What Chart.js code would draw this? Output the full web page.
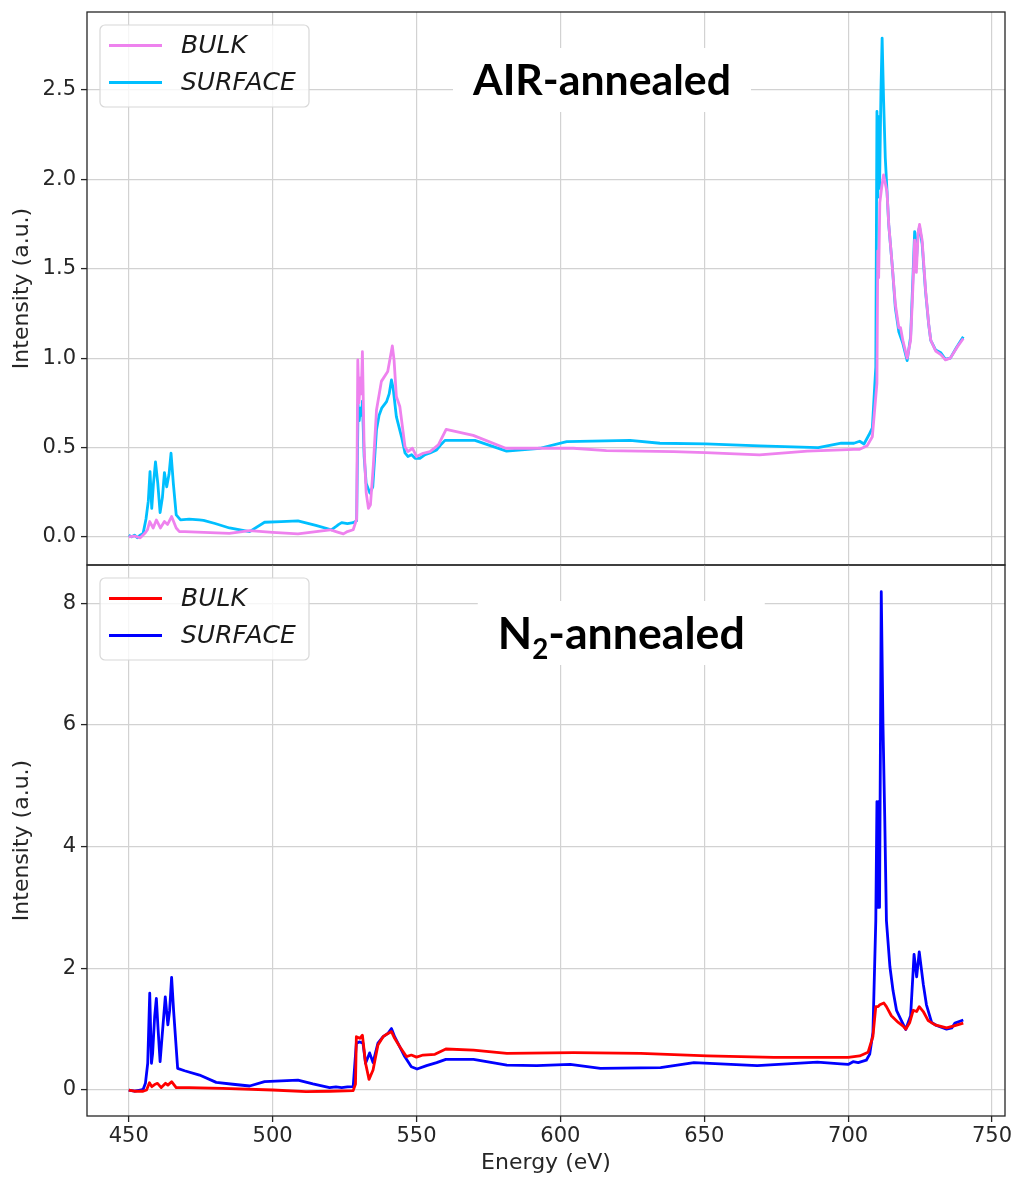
<!DOCTYPE html>
<html>
<head>
<meta charset="utf-8">
<title>XAS spectra</title>
<script src="https://cdn.jsdelivr.net/npm/chart.js@4.4.1/dist/chart.umd.min.js"></script>
<style>
  html, body { margin: 0; padding: 0; background: #fff; }
  #wrap { position: relative; width: 1020px; height: 1177px; }
  #air { position: absolute; left: 0; top: 0; }
  #n2 { position: absolute; left: 0; top: 555px; }
</style>
</head>
<body>
<div id="wrap">
  <canvas id="air" width="1020" height="567"></canvas>
  <canvas id="n2" width="1020" height="622"></canvas>
</div>
<script>
// AIR-annealed, bulk
const airBulkE = [450, 452, 454, 455.6, 456.5, 457.3, 458.5, 459.6, 461, 462.4, 463.5, 464.9, 466.5, 467.6, 469.4, 485, 492, 500, 508.8, 520, 522, 524.6, 526, 528, 529.2, 529.6, 530, 530.5, 530.8, 531.2, 531.8, 532.5, 533.3, 534, 535, 536.1, 537.8, 540, 541.6, 542.2, 543, 544.2, 546, 547, 548.6, 550, 552.3, 554.7, 557.6, 560.3, 569.7, 581, 593, 604.5, 616, 639.3, 650.4, 669.2, 685.8, 697.6, 702, 704, 706.6, 708.4, 710, 710.3, 710.6, 711, 711.6, 712.3, 713.5, 714.1, 715.3, 716.4, 717.6, 718.2, 719, 720.5, 721.7, 722.5, 723.1, 723.7, 724.3, 724.8, 725.7, 726.9, 728, 728.7, 730.4, 732.2, 733.8, 735.5, 737.8, 740];
const airBulkI = [0.0, 0.005, -0.005, 0.02, 0.04, 0.086, 0.05, 0.095, 0.05, 0.086, 0.07, 0.114, 0.05, 0.03, 0.03, 0.02, 0.035, 0.025, 0.017, 0.04, 0.03, 0.017, 0.03, 0.04, 0.1, 0.99, 0.75, 0.89, 0.8, 1.036, 0.5, 0.25, 0.16, 0.18, 0.4, 0.71, 0.87, 0.925, 1.068, 0.99, 0.785, 0.73, 0.505, 0.477, 0.496, 0.45, 0.468, 0.477, 0.515, 0.602, 0.568, 0.496, 0.496, 0.496, 0.483, 0.477, 0.472, 0.459, 0.48, 0.487, 0.49, 0.49, 0.51, 0.56, 0.86, 1.6, 1.45, 1.87, 1.95, 2.025, 1.93, 1.75, 1.52, 1.3, 1.17, 1.17, 1.1, 1.0, 1.1, 1.4, 1.66, 1.48, 1.7, 1.748, 1.66, 1.38, 1.19, 1.10, 1.04, 1.02, 0.99, 1.0, 1.06, 1.11];

// AIR-annealed, surface
const airSurfE = [450, 451, 452, 453, 454, 455, 456, 456.8, 457.4, 458, 458.6, 459.3, 460.1, 460.9, 461.7, 462.4, 463.2, 464, 464.7, 465.5, 466.5, 468, 471, 474.5, 476, 480, 485, 492, 497.2, 503, 508.8, 515, 520.4, 522.2, 523, 524, 526, 528, 529.2, 529.7, 530.1, 530.5, 530.9, 531.2, 531.8, 532.5, 533.8, 534.8, 535.5, 536.1, 537, 537.9, 539.6, 540.5, 541.3, 541.9, 543, 544.8, 546, 547, 548.3, 549.5, 551.2, 553, 554.7, 557, 558.7, 559.9, 570.3, 581.3, 592.9, 602.2, 624.2, 634.6, 650.4, 669.2, 689.6, 697.6, 702, 704, 705.5, 707.2, 708.4, 709.6, 710, 710.3, 710.6, 710.9, 711.4, 711.8, 712.3, 712.9, 714.1, 715.3, 716.4, 717.6, 719, 720.5, 721.7, 722.5, 723.1, 723.7, 724.3, 724.8, 725.7, 726.9, 728, 728.7, 730.4, 732.2, 733.8, 735.5, 737.8, 740];
const airSurfI = [0.01, 0.0, 0.01, -0.005, 0.01, 0.02, 0.1, 0.2, 0.365, 0.16, 0.3, 0.42, 0.3, 0.136, 0.22, 0.36, 0.28, 0.35, 0.468, 0.3, 0.123, 0.095, 0.1, 0.095, 0.093, 0.075, 0.05, 0.03, 0.082, 0.086, 0.09, 0.065, 0.04, 0.06, 0.07, 0.08, 0.075, 0.08, 0.09, 0.74, 0.65, 0.72, 0.68, 0.76, 0.45, 0.3, 0.245, 0.28, 0.45, 0.6, 0.68, 0.72, 0.757, 0.8, 0.878, 0.83, 0.673, 0.56, 0.47, 0.45, 0.46, 0.44, 0.44, 0.46, 0.47, 0.487, 0.52, 0.54, 0.54, 0.48, 0.496, 0.533, 0.54, 0.524, 0.52, 0.509, 0.5, 0.524, 0.524, 0.535, 0.52, 0.57, 0.61, 0.95, 2.38, 1.9, 2.35, 1.95, 2.5, 2.79, 2.45, 2.12, 1.745, 1.52, 1.28, 1.148, 1.083, 0.986, 1.12, 1.45, 1.708, 1.54, 1.7, 1.735, 1.64, 1.37, 1.186, 1.10, 1.045, 1.03, 0.994, 1.0, 1.064, 1.12];

// N2-annealed, bulk
const n2BulkE = [450, 452, 455, 456.2, 457.2, 458, 459, 460, 461.3, 462.8, 463.6, 464.9, 466.5, 471, 482.6, 500, 511.6, 520, 528, 528.8, 529.1, 530.3, 531.2, 532.3, 533.5, 534.9, 536.6, 538.4, 540.1, 541.3, 542.4, 544.2, 546.5, 548.2, 550, 552.3, 556.4, 560.2, 569.8, 581.4, 604.6, 627.9, 651, 674.2, 697.4, 700, 704, 706.9, 708.6, 709.6, 710.4, 711, 712.4, 713.3, 715, 717.4, 719.1, 720, 721.4, 722.6, 723.8, 724.7, 726.1, 727.8, 730.2, 734.2, 736.5, 740];
const n2BulkI = [0.0, -0.02, -0.02, 0.0, 0.12, 0.055, 0.09, 0.11, 0.04, 0.11, 0.08, 0.137, 0.04, 0.04, 0.027, 0.0, -0.027, -0.02, -0.01, 0.1, 0.876, 0.85, 0.9, 0.44, 0.175, 0.33, 0.74, 0.876, 0.93, 0.96, 0.85, 0.71, 0.55, 0.575, 0.54, 0.575, 0.586, 0.674, 0.657, 0.602, 0.613, 0.602, 0.56, 0.536, 0.536, 0.535, 0.56, 0.62, 0.88, 1.37, 1.37, 1.40, 1.43, 1.37, 1.22, 1.11, 1.05, 1.0, 1.11, 1.31, 1.29, 1.37, 1.29, 1.14, 1.07, 1.02, 1.05, 1.1];

// N2-annealed, surface
const n2SurfE = [450, 452, 454, 455, 455.8, 456.6, 457.3, 457.9, 458.3, 459, 459.6, 460.2, 460.9, 461.8, 462.7, 463.6, 464.2, 464.9, 465.6, 467, 469.4, 474.6, 480.4, 486.2, 492, 497.2, 503, 508.8, 514, 519.8, 522, 524, 526, 528, 529.1, 530.3, 531.4, 532.3, 533.7, 534.9, 536.6, 538.4, 540.1, 541.3, 542.4, 544.2, 545.9, 548.2, 550.2, 553.5, 557, 560.2, 569.8, 581.4, 591.8, 603.4, 613.9, 634.8, 646.4, 668.4, 689.3, 697.4, 700, 701.7, 703.5, 706.3, 707.5, 708.6, 709.6, 710, 710.3, 710.6, 710.9, 711.5, 712.1, 712.7, 713.3, 714.5, 715.6, 716.8, 718.5, 720, 721.7, 722.9, 723.8, 724.7, 726.1, 727.2, 729, 730.7, 734.2, 736, 737.1, 740];
const n2SurfI = [0.0, -0.02, 0.0, 0.01, 0.11, 0.44, 1.59, 0.44, 0.6, 1.2, 1.507, 1.0, 0.466, 1.0, 1.53, 1.07, 1.3, 1.85, 1.3, 0.356, 0.317, 0.246, 0.126, 0.095, 0.066, 0.137, 0.15, 0.164, 0.1, 0.04, 0.05, 0.04, 0.05, 0.055, 0.77, 0.79, 0.77, 0.44, 0.61, 0.45, 0.77, 0.876, 0.93, 1.01, 0.876, 0.71, 0.55, 0.383, 0.345, 0.4, 0.45, 0.504, 0.504, 0.41, 0.4, 0.42, 0.356, 0.367, 0.45, 0.4, 0.46, 0.43, 0.42, 0.466, 0.45, 0.49, 0.59, 0.94, 2.78, 4.74, 3.0, 4.74, 3.0, 8.19, 6.0, 4.5, 2.78, 2.03, 1.63, 1.31, 1.14, 0.995, 1.22, 2.23, 1.86, 2.27, 1.74, 1.4, 1.11, 1.06, 1.0, 1.02, 1.1, 1.15];

const energyTicks = [450, 500, 550, 600, 650, 700, 750];
const airTicks = [0, 0.5, 1, 1.5, 2, 2.5];
const n2Ticks = [0, 2, 4, 6, 8];
const seriesNames = ['BULK', 'SURFACE'];

const ink = '#262626';
const gridColor = '#d2d2d2';
const tickFont = { family: 'DejaVu Sans', size: 21 };
const labelFont = { family: 'DejaVu Sans', size: 22 };

function pts(es, vs) {
  return es.map((e, i) => ({ x: e, y: vs[i] }));
}

// scales keep their own size and ask for no extra room around the plot
function noPad(s) {
  s.paddingTop = 0;
  s.paddingBottom = 0;
  s.paddingLeft = 0;
  s.paddingRight = 0;
}

// frame, in-axes legend and the boxed heading
const decor = {
  id: 'decor',
  afterDraw(chart, args, opts) {
    const { ctx, chartArea: a } = chart;
    ctx.save();

    ctx.strokeStyle = ink;
    ctx.lineWidth = 1.3;
    ctx.strokeRect(a.left, a.top, a.right - a.left, a.bottom - a.top);

    // legend
    const lx = a.left + 13, ly = a.top + 13, lw = 209, lh = 82;
    ctx.beginPath();
    ctx.roundRect(lx, ly, lw, lh, 5);
    ctx.fillStyle = 'rgba(255,255,255,0.8)';
    ctx.fill();
    ctx.strokeStyle = '#d8d8d8';
    ctx.lineWidth = 1.2;
    ctx.stroke();
    ctx.font = 'italic 25px "DejaVu Sans"';
    ctx.textBaseline = 'middle';
    chart.data.datasets.forEach((ds, i) => {
      const y = ly + 20.5 + i * 37;
      ctx.strokeStyle = ds.borderColor;
      ctx.lineWidth = 2.8;
      ctx.beginPath();
      ctx.moveTo(lx + 9, y);
      ctx.lineTo(lx + 62, y);
      ctx.stroke();
      ctx.fillStyle = '#1a1a1a';
      ctx.fillText(ds.label, lx + 81, y + 1);
    });

    // heading, sized to its width
    const parts = opts.heading;
    ctx.textBaseline = 'alphabetic';
    let raw = 0;
    parts.forEach(p => {
      ctx.font = `bold ${40 * p.rel}px Lato`;
      raw += ctx.measureText(p.text).width;
    });
    const size = 40 * opts.width / raw;
    const cx = a.left + opts.at * (a.right - a.left);
    const cy = a.top + 68;
    ctx.fillStyle = '#fff';
    ctx.fillRect(cx - opts.width / 2 - 20, cy - 32, opts.width + 40, 64);
    let x = cx - opts.width / 2;
    const base = cy + 0.36 * size;
    ctx.fillStyle = '#000';
    parts.forEach(p => {
      ctx.font = `bold ${size * p.rel}px Lato`;
      ctx.fillText(p.text, x, base + p.dy * size);
      x += ctx.measureText(p.text).width;
    });

    ctx.restore();
  }
};

function buildPanel(id, cfg) {
  return new Chart(document.getElementById(id), {
    type: 'line',
    data: {
      datasets: [
        { label: seriesNames[0], data: pts(cfg.bulkE, cfg.bulkI), borderColor: cfg.colors[0] },
        { label: seriesNames[1], data: pts(cfg.surfE, cfg.surfI), borderColor: cfg.colors[1] }
      ]
    },
    options: {
      responsive: false,
      animation: false,
      devicePixelRatio: 1,
      layout: { padding: cfg.padding, autoPadding: false },
      elements: {
        line: { borderWidth: 2.8, tension: 0, fill: false, borderJoinStyle: 'round' },
        point: { radius: 0 }
      },
      plugins: {
        legend: { display: false },
        tooltip: { enabled: false },
        decor: cfg.heading
      },
      scales: {
        x: {
          type: 'linear',
          min: 435.5,
          max: 754.5,
          afterBuildTicks: s => { s.ticks = energyTicks.map(v => ({ value: v })); },
          afterFit: s => { s.height = cfg.xHeight; noPad(s); },
          border: { display: false },
          grid: { color: gridColor, lineWidth: 1.2, drawTicks: cfg.showX, tickLength: 6, tickColor: ink, tickWidth: 1.3 },
          ticks: { display: cfg.showX, autoSkip: false, maxRotation: 0, padding: 2, color: ink, font: tickFont },
          title: { display: cfg.showX, text: 'Energy (eV)', color: ink, font: labelFont, padding: { top: 0, bottom: 1 } }
        },
        y: {
          min: cfg.yMin,
          max: cfg.yMax,
          afterBuildTicks: s => { s.ticks = cfg.yTicks.map(v => ({ value: v })); },
          afterFit: s => { s.width = 87; noPad(s); },
          border: { display: false },
          grid: { color: gridColor, lineWidth: 1.2, tickLength: 6, tickColor: ink, tickWidth: 1.3 },
          ticks: { padding: 5, color: ink, font: tickFont, callback: v => v.toFixed(cfg.decimals) },
          title: { display: true, text: 'Intensity (a.u.)', color: ink, font: labelFont, padding: { top: 9, bottom: 0 } }
        }
      }
    },
    plugins: [decor]
  });
}

buildPanel('air', {
  bulkE: airBulkE, bulkI: airBulkI, surfE: airSurfE, surfI: airSurfI,
  colors: ['#ee82ee', '#00bfff'],
  yMin: -0.157, yMax: 2.936, yTicks: airTicks, decimals: 1,
  padding: { top: 12, right: 15, bottom: 2, left: 0 },
  xHeight: 0, showX: false,
  heading: { heading: [{ text: 'AIR-annealed', rel: 1, dy: 0 }], width: 258, at: 0.561 }
});

buildPanel('n2', {
  bulkE: n2BulkE, bulkI: n2BulkI, surfE: n2SurfE, surfI: n2SurfI,
  colors: ['#ff0000', '#0000ff'],
  yMin: -0.427, yMax: 8.628, yTicks: n2Ticks, decimals: 0,
  padding: { top: 10, right: 15, bottom: 0, left: 0 },
  xHeight: 61, showX: true,
  heading: {
    heading: [
      { text: 'N', rel: 1, dy: 0 },
      { text: '2', rel: 0.62, dy: 0.22 },
      { text: '-annealed', rel: 1, dy: 0 }
    ],
    width: 247, at: 0.582
  }
});
</script>
</body>
</html>
